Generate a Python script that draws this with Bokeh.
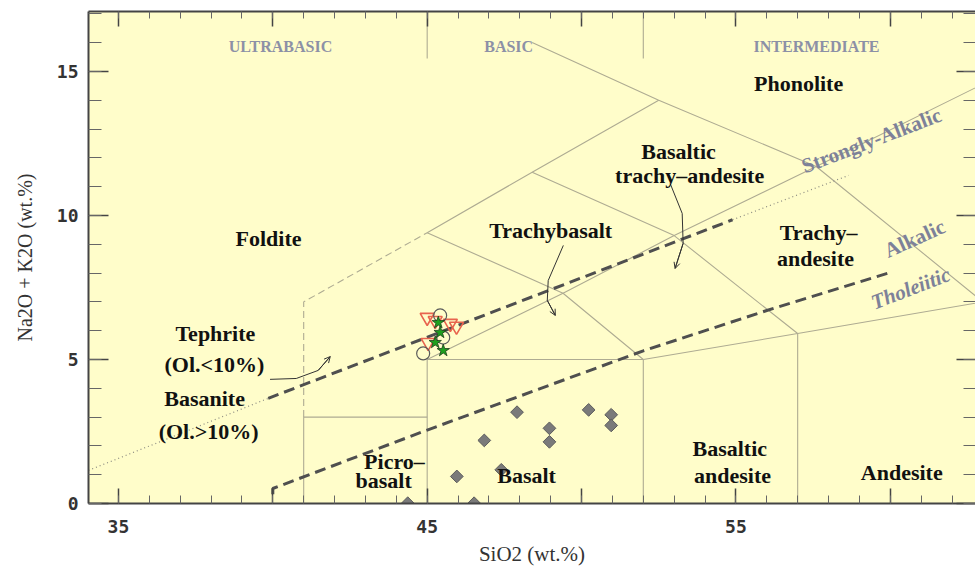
from bokeh.plotting import figure
from bokeh.models import LinearAxis, FixedTicker, Range1d, Arrow, OpenHead
from bokeh.core.properties import value
from bokeh.embed import file_html
from bokeh.resources import INLINE

# ---------------- data ----------------
# TAS field boundaries (solid thin lines)
field_xs = [
    [41, 41, 45],
    [45, 45, 52],
    [52, 52],
    [57, 57],
    [52, 57, 63],
    [45, 49.4, 53, 57.6, 63],
    [45, 49.4, 52],
    [48.4, 53, 57],
    [52.5, 57.6, 63],
    [45, 48.4, 52.5, 48.4],
    [45, 45],
    [52, 52],
]
field_ys = [
    [0, 3, 3],
    [0, 5, 5],
    [0, 5],
    [0, 5.9],
    [5, 5.9, 7],
    [5, 7.3, 9.3, 11.7, 14.56],
    [9.4, 7.3, 5],
    [11.5, 9.3, 5.9],
    [14, 11.7, 7],
    [9.4, 11.5, 14, 16],
    [15.45, 17.1],
    [15.45, 17.1],
]
# dashed thin foidite boundary
foid_x = [41, 41, 45]
foid_y = [3, 7, 9.4]

# heavy dashed series boundaries
upper_dash_x = [39.85, 54.89]
upper_dash_y = [3.65, 9.85]
upper_dot_xs = [[34.03, 39.85], [54.89, 58.65]]
upper_dot_ys = [[1.15, 3.65], [9.85, 11.39]]
lower_dash_x = [40.0, 40.0, 45.0, 52.0, 56.0, 60.0]
lower_dash_y = [0.32, 0.52, 2.55, 5.3, 6.7, 8.02]

# samples
basalt_x = [47.91, 50.23, 50.96, 50.96, 48.96, 48.96, 46.85, 45.96, 47.40, 44.37, 46.52]
basalt_y = [3.17, 3.25, 3.08, 2.71, 2.61, 2.14, 2.19, 0.94, 1.17, 0.01, 0.01]
tri_x = [45.0, 45.26, 45.75, 45.95, 45.03]
tri_y = [6.46, 6.35, 6.25, 6.15, 5.59]
circ_x = [45.42, 45.52, 44.87]
circ_y = [6.53, 5.76, 5.21]
star_x = [45.36, 45.42, 45.26, 45.52]
star_y = [6.28, 5.94, 5.59, 5.31]

# rock names
name_text = ["Foldite", "Phonolite", "Basaltic", "trachy\u2013andesite", "Trachybasalt",
             "Trachy\u2013", "andesite", "Tephrite", "(Ol.<10%)", "Basanite", "(Ol.>10%)",
             "Picro\u2013", "basalt", "Basalt", "Basaltic", "andesite", "Andesite"]
name_x = [39.86, 57.03, 53.14, 53.5, 49.0, 57.68, 57.58, 38.14, 38.11, 37.79, 37.92,
          43.94, 43.59, 48.22, 54.8, 54.89, 60.37]
name_y = [9.2, 14.58, 12.22, 11.39, 9.48, 9.41, 8.5, 5.9, 4.83, 3.65, 2.5,
          1.46, 0.8, 0.97, 1.91, 0.97, 1.08]

# silica classes
class_text = ["ULTRABASIC", "BASIC", "INTERMEDIATE"]
class_x = [40.25, 47.64, 57.61]
class_y = [15.87, 15.87, 15.87]

# series names
series_text = ["Strongly-Alkalic", "Alkalic", "Tholeiitic"]
series_x = [59.39, 60.79, 60.66]
series_y = [12.6, 9.2, 7.47]
series_angle = [21, 24, 21]
series_style = ["bold", "bold", "bold italic"]

# annotation arrows (curves)
arrow_xs = [[39.91, 40.76, 41.47, 41.86],
            [49.41, 48.92, 48.89, 49.15],
            [52.87, 53.26, 53.29, 53.03]]
arrow_ys = [[4.31, 4.34, 4.62, 5.1],
            [8.96, 7.74, 7.05, 6.53],
            [11.11, 10.07, 9.03, 8.16]]

x_ticks_major = [35, 40, 45, 50, 55, 60]
x_ticks_minor = list(range(34, 64))
y_ticks_major = [0, 5, 10, 15]
y_ticks_minor = list(range(0, 18))

# ---------------- figure ----------------
p = figure(frame_width=887, frame_height=492,
           x_range=Range1d(34.03, 62.76), y_range=Range1d(0, 17.08),
           output_backend="svg", toolbar_location=None,
           min_border_left=88, min_border_right=0, min_border_top=11, min_border_bottom=62)
p.background_fill_color = "#fffdca"
p.border_fill_color = "white"
p.outline_line_color = None
p.grid.visible = False

serif = value("Liberation Serif")

p.multi_line(field_xs, field_ys, line_color="#aeab92", line_width=1.1)
p.line(foid_x, foid_y, line_color="#aeab92", line_width=1.1, line_dash="7 4")
p.multi_line(upper_dot_xs, upper_dot_ys, line_color="#8a8a80", line_width=1.2, line_dash="1 3")
p.line(upper_dash_x, upper_dash_y, line_color="#4f4f4f", line_width=3, line_dash="11 6")
p.line(lower_dash_x, lower_dash_y, line_color="#4f4f4f", line_width=3, line_dash="11 6")

# arrows
p.multi_line(arrow_xs, arrow_ys, line_color="#333333", line_width=1)
for ax, ay in zip(arrow_xs, arrow_ys):
    p.add_layout(Arrow(end=OpenHead(size=6, line_color="#333333", line_width=1),
                       x_start=ax[-2], y_start=ay[-2], x_end=ax[-1], y_end=ay[-1],
                       line_color="#333333", line_width=1))

# markers
p.scatter(basalt_x, basalt_y, marker="square", angle=45, angle_units="deg", size=9,
          fill_color="#7a7a7a", line_color="#5c5c5c", line_width=1)
p.scatter(tri_x, tri_y, marker="inverted_triangle", size=14, fill_color=None,
          line_color="#e8644e", line_width=1.6)
p.scatter(circ_x, circ_y, marker="circle", size=13, fill_color=None,
          line_color="#5a5a5a", line_width=1.2)
p.scatter(star_x, star_y, marker="star", size=13, fill_color="#1f9f1f",
          line_color="#1c3c1c", line_width=0.8)

# names
p.text(name_x, name_y, text=name_text, text_font=serif, text_font_style="bold",
       text_font_size="22px", text_color="#111111", text_align="center", text_baseline="middle")
p.text(class_x, class_y, text=class_text, text_font=serif, text_font_style="bold",
       text_font_size="16px", text_color="#8c90a6", text_align="center", text_baseline="middle")
for t, x, y, a, s in zip(series_text, series_x, series_y, series_angle, series_style):
    p.text([x], [y], text=[t], angle=a, angle_units="deg", text_font=serif,
           text_font_style=s, text_font_size="21px", text_color="#7d8199",
           text_align="center", text_baseline="middle")

# axes
mono = "DejaVu Sans Mono"
xa = p.xaxis[0]
xa.ticker = FixedTicker(ticks=x_ticks_major, minor_ticks=x_ticks_minor)
xa.major_label_overrides = {40: "", 50: "", 60: ""}
xa.major_tick_in = 15
xa.major_tick_out = 0
xa.minor_tick_in = 8
xa.minor_tick_out = 0
xa.major_label_standoff = 16
xa.axis_label = "SiO2 (wt.%)"
xa.axis_label_text_font = "Liberation Serif"
xa.axis_label_text_font_style = "normal"
xa.axis_label_text_font_size = "21px"
xa.axis_label_standoff = 6

ya = p.yaxis[0]
ya.ticker = FixedTicker(ticks=y_ticks_major, minor_ticks=y_ticks_minor)
ya.major_tick_in = 20
ya.major_tick_out = 0
ya.minor_tick_in = 13
ya.minor_tick_out = 0
ya.major_label_standoff = 10
ya.axis_label = "Na2O + K2O (wt.%)"
ya.axis_label_text_font = "Liberation Serif"
ya.axis_label_text_font_style = "normal"
ya.axis_label_text_font_size = "20px"
ya.axis_label_standoff = 18

for a in (xa, ya):
    a.axis_line_width = 2
    a.axis_line_color = "#444444"
    a.major_tick_line_color = "#444444"
    a.minor_tick_line_color = "#666666"
    a.major_tick_line_width = 1.5
    a.major_label_text_font = mono
    a.major_label_text_font_style = "bold"
    a.major_label_text_font_size = "18px"
    a.major_label_text_color = "#333333"
    a.axis_label_text_color = "#333333"

top = LinearAxis(ticker=FixedTicker(ticks=x_ticks_major, minor_ticks=x_ticks_minor),
                 major_label_overrides={t: "" for t in x_ticks_major},
                 major_tick_in=15, major_tick_out=0, minor_tick_in=7, minor_tick_out=0,
                 major_label_standoff=0, axis_line_width=2, axis_line_color="#444444",
                 major_tick_line_color="#444444", minor_tick_line_color="#666666",
                 major_tick_line_width=1.5)
p.add_layout(top, "above")
right = LinearAxis(ticker=FixedTicker(ticks=y_ticks_major, minor_ticks=y_ticks_minor),
                   major_label_overrides={t: "" for t in y_ticks_major},
                   major_tick_in=19, major_tick_out=0, minor_tick_in=12, minor_tick_out=0,
                   major_label_standoff=0, axis_line_color=None,
                   major_tick_line_color="#444444", minor_tick_line_color="#666666",
                   major_tick_line_width=1.5)
p.add_layout(right, "right")

open("out.html", "w").write(file_html(p, INLINE))
